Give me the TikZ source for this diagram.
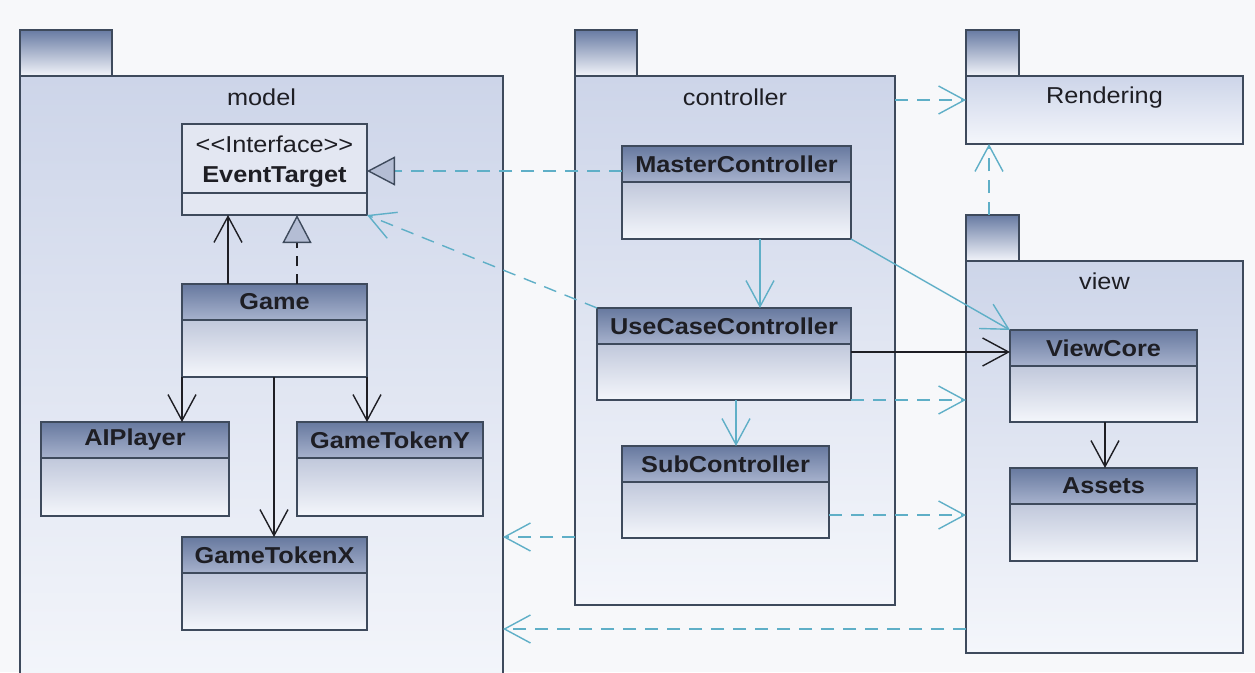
\documentclass[tikz,border=0pt]{standalone}
\usepackage{fontspec}
\setmainfont{Liberation Sans}[FakeStretch=1.1]
\usetikzlibrary{arrows.meta,calc}

\definecolor{bg}{HTML}{F7F8FA}
\definecolor{edge}{HTML}{3E4A5C}
\definecolor{dep}{HTML}{5FAFC7}
\definecolor{hdtop}{HTML}{67799F}
\definecolor{hdbot}{HTML}{A7B2CD}
\definecolor{bdtop}{HTML}{A0ABC7}
\definecolor{bdbot}{HTML}{F4F6FB}
\definecolor{pkgtop}{HTML}{CDD5E9}
\definecolor{pkgbot}{HTML}{F4F6FB}
\definecolor{tabtop}{HTML}{687BA3}
\definecolor{tabbot}{HTML}{F2F4FA}
\definecolor{trifill}{HTML}{B4BDD4}
\definecolor{ifill}{HTML}{E3E7F2}
\definecolor{ink}{HTML}{1E1E24}

\tikzset{
  box/.style={draw=edge, line width=1.3pt, inner sep=0pt, outer sep=0pt, anchor=north west},
  headshade/.style={top color=hdtop, bottom color=hdbot},
  bodyshade/.style={top color=bdtop, bottom color=bdbot},
  pkgshade/.style={top color=pkgtop, bottom color=pkgbot},
  tabshade/.style={top color=tabtop, bottom color=tabbot},
  cname/.style={font=\fontsize{23}{27}\selectfont\bfseries, text=ink},
  pname/.style={font=\fontsize{23}{27}\selectfont, text=ink},
  assoc/.style={draw=ink, line width=1.4pt, -{Straight Barb[length=26pt,width=28pt,line width=1.4pt]}},
  nav/.style={draw=dep, line width=1.4pt, -{Straight Barb[length=26pt,width=28pt,line width=1.4pt]}},
  usedep/.style={nav, dash pattern=on 13pt off 9pt},
  realize/.style={line width=1.4pt, -{Triangle[length=28pt,width=29pt,line width=1.4pt,color=edge,fill=trifill]}},
}

% class box: name, x, y, width, height, label (header 36 high)
\newcommand\umlclass[6]{%
  \node[box, bodyshade, minimum width=#4pt, minimum height=#5pt] (#1) at (#2,#3) {};
  \node[box, headshade, minimum width=#4pt, minimum height=36pt, cname] (#1-head) at (#2,#3) {#6};
}

\begin{document}
\begin{tikzpicture}[x=1pt,y=-1pt]
\useasboundingbox (0,0) rectangle (1255,672);
\fill[bg] (0,0) rectangle (1255,672);
\begin{scope}
\clip (0,0) rectangle (1255,672);

% ---------- packages ----------
\node[box, tabshade, minimum width=92pt, minimum height=46pt] (modeltab) at (20,30) {};
\node[box, pkgshade, minimum width=483pt, minimum height=620pt] (model) at (20,76) {};
\node[pname] (modellbl) at (261.5,97) {model};

\node[box, tabshade, minimum width=62pt, minimum height=46pt] (ctrltab) at (575,30) {};
\node[box, pkgshade, minimum width=320pt, minimum height=529pt] (ctrl) at (575,76) {};
\node[pname] (ctrllbl) at (735,97) {controller};

\node[box, tabshade, minimum width=53pt, minimum height=46pt] (rendtab) at (966,30) {};
\node[box, pkgshade, minimum width=277pt, minimum height=68pt] (rend) at (966,76) {};
\node[pname] (rendlbl) at (1104.5,98) {Rendering};

\node[box, tabshade, minimum width=53pt, minimum height=46pt] (viewtab) at (966,215) {};
\node[box, pkgshade, minimum width=277pt, minimum height=392pt] (view) at (966,261) {};
\node[pname] (viewlbl) at (1104.5,281) {view};

% ---------- model classes ----------
\node[box, fill=ifill, minimum width=185pt, minimum height=91pt] (evt) at (182,124) {};
\draw[edge, line width=1.3pt] ($(evt.north west)+(0,69)$) -- ($(evt.north east)+(0,69)$);
\node[pname] (evtstereo) at (274.5,144) {<\kern0pt<Interface>\kern0pt>};
\node[cname] (evtname) at (274.5,177) {EventTarget};

\umlclass{game}{182}{284}{185}{93}{Game}
\umlclass{aip}{41}{422}{188}{94}{AIPlayer}
\umlclass{gty}{297}{422}{186}{94}{GameTokenY}
\umlclass{gtx}{182}{537}{185}{93}{GameTokenX}

% ---------- controller classes ----------
\umlclass{mc}{622}{146}{229}{93}{MasterController}
\umlclass{ucc}{597}{308}{254}{92}{UseCaseController}
\umlclass{sub}{622}{446}{207}{92}{SubController}

% ---------- view classes ----------
\umlclass{vc}{1010}{330}{187}{92}{ViewCore}
\umlclass{assets}{1010}{468}{187}{93}{Assets}

% ---------- relations inside model ----------
\draw[assoc] ($(game.north west)+(46,0)$) -- ($(evt.south west)+(46,0)$);
\draw[realize, draw=ink, dash pattern=on 10pt off 8pt] ($(game.north west)+(115,0)$) -- ($(evt.south west)+(115,0)$);
\draw[assoc] (game.south west) -- ($(aip.north west)+(141,0)$);
\draw[assoc] (game.south east) -- ($(gty.north west)+(70,0)$);
\draw[assoc] ($(game.south west)+(92,0)$) -- ($(gtx.north west)+(92,0)$);

% ---------- relations from controller ----------
\draw[realize, draw=dep, dash pattern=on 13pt off 9pt] ($(mc.north west)+(0,25)$) -- ($(evt.north east)+(0,47)$);
\draw[usedep] (ucc.north west) -- (evt.south east);
\draw[nav] ($(mc.south west)+(138,0)$) -- ($(ucc.north west)+(163,0)$);
\draw[nav] ($(ucc.south west)+(139,0)$) -- ($(sub.north west)+(114,0)$);
\draw[nav] (mc.south east) -- (vc.north west);
\draw[assoc] ($(ucc.north east)+(0,44)$) -- ($(vc.north west)+(0,22)$);
\draw[usedep] (ucc.south east) -- ($(view.north west)+(0,139)$);
\draw[usedep] ($(sub.north east)+(0,69)$) -- ($(view.north west)+(0,254)$);

% ---------- package dependencies ----------
\draw[usedep] ($(ctrl.north west)+(0,461)$) -- ($(model.north east)+(0,461)$);
\draw[usedep] ($(view.north west)+(0,368)$) -- ($(model.north east)+(0,553)$);
\draw[usedep] ($(ctrl.north east)+(0,24)$) -- ($(rend.north west)+(0,24)$);
\draw[usedep] ($(viewtab.north west)+(23,0)$) -- ($(rend.south west)+(23,0)$);

% ---------- relation inside view ----------
\draw[assoc] ($(vc.south west)+(95,0)$) -- ($(assets.north west)+(95,0)$);
\end{scope}
\end{tikzpicture}
\end{document}
